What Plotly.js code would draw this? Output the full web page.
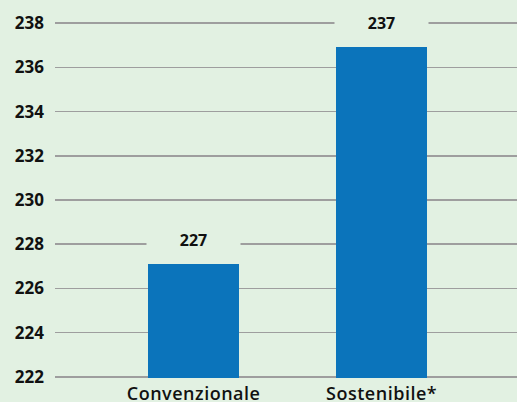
<!DOCTYPE html>
<html><head><meta charset="utf-8">
<script src="https://cdn.plot.ly/plotly-3.0.1.min.js"></script>
<style>html,body{margin:0;padding:0;background:#e2f1e2;}#c{width:517px;height:402px;}
#c .xtick text{letter-spacing:0.5px;}</style>
</head><body><div id="c"></div>
<script>
const categories = ["Convenzionale", "Sostenibile*"];
const values = [227.1, 236.9];
const valueLabels = ["227", "237"];
const yTicks = [222, 224, 226, 228, 230, 232, 234, 236, 238];

const bg = '#e2f1e2';
const fontFam = '"Open Sans", Lato, sans-serif';

const annotations = categories.map((c, i) => ({
  x: c, y: values[i], xref: 'x', yref: 'y',
  text: valueLabels[i],
  showarrow: false, yanchor: 'middle', yshift: 24,
  bgcolor: bg, width: 91, height: 22,
  font: {family: fontFam, size: 16, color: '#111', weight: 700}
}));

Plotly.newPlot('c', [{
  type: 'bar', x: categories, y: values,
  marker: {color: '#0b74bb'}, width: 0.484,
  hoverinfo: 'none'
}], {
  width: 517, height: 402,
  paper_bgcolor: bg, plot_bgcolor: bg,
  margin: {l: 55, r: 0, t: 21.9, b: 23.6},
  showlegend: false,
  bargap: 0,
  xaxis: {range: [-0.737, 1.72], showgrid: false, zeroline: false, showline: false,
    ticks: '', ticklabelstandoff: 3,
    tickfont: {family: fontFam, size: 18, color: '#111', weight: 600}, fixedrange: true},
  yaxis: {range: [221.95, 238.05], tickvals: yTicks, ticktext: yTicks.map(String),
    showgrid: true, gridcolor: '#9e9e9e', gridwidth: 1.6, zeroline: false, showline: false,
    ticks: '', ticklabelstandoff: 10,
    tickfont: {family: fontFam, size: 17, color: '#111', weight: 700}, fixedrange: true},
  annotations: annotations
}, {displayModeBar: false, staticPlot: true});
</script></body></html>
